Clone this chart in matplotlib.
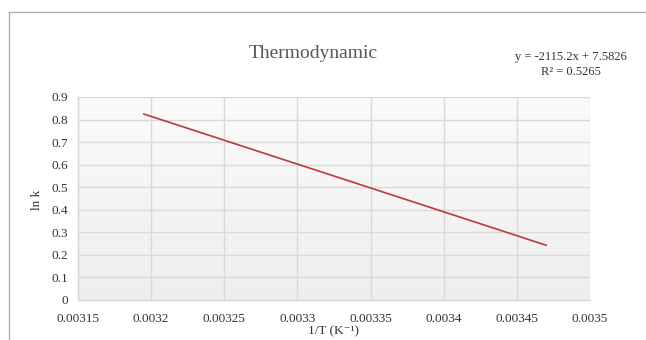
import numpy as np
import matplotlib
matplotlib.use("Agg")
import matplotlib.pyplot as plt
from matplotlib.lines import Line2D

plt.rcParams['font.family'] = ['Liberation Serif', 'DejaVu Serif']

# Linear trendline of ln k against 1/T
slope = -2115.2
intercept = 7.5826
r_squared = 0.5265
x_range = [0.003195, 0.00347]

x_ticks = [0.00315, 0.0032, 0.00325, 0.0033, 0.00335, 0.0034, 0.00345, 0.0035]
x_tick_labels = ['0.00315', '0.0032', '0.00325', '0.0033', '0.00335', '0.0034', '0.00345', '0.0035']
y_ticks = [0, 0.1, 0.2, 0.3, 0.4, 0.5, 0.6, 0.7, 0.8, 0.9]
y_tick_labels = ['0', '0.1', '0.2', '0.3', '0.4', '0.5', '0.6', '0.7', '0.8', '0.9']

W, H = 646, 340
fig = plt.figure(figsize=(W / 100, H / 100), dpi=100)
fig.patch.set_facecolor('white')

ax = fig.add_axes([78 / W, 1 - 300 / H, (590 - 78) / W, (300 - 97) / H])

# soft vertical gradient in the plot area
grad = np.linspace(0, 1, 256).reshape(-1, 1)
cmap = matplotlib.colors.LinearSegmentedColormap.from_list('bg', ['#eeeeee', '#fbfbfb'])
ax.imshow(grad, aspect='auto', cmap=cmap, origin='lower',
          extent=[x_ticks[0], x_ticks[-1], y_ticks[0], y_ticks[-1]], zorder=0)

xs = np.array(x_range)
ys = slope * xs + intercept
ax.plot(xs, ys, color='#b83b3b', linewidth=1.2, zorder=3)

ax.set_xlim(x_ticks[0], x_ticks[-1])
ax.set_ylim(y_ticks[0], y_ticks[-1])
ax.set_xticks(x_ticks)
ax.set_xticklabels(x_tick_labels)
ax.set_yticks(y_ticks)
ax.set_yticklabels(y_tick_labels)
ax.set_axisbelow(True)
ax.grid(True, color='#d9d9d9', linewidth=1.0)
for side in ['top', 'right']:
    ax.spines[side].set_visible(False)
for side in ['left', 'bottom']:
    ax.spines[side].set_color('#d9d9d9')
    ax.spines[side].set_linewidth(1.0)
ax.tick_params(axis='both', length=0, labelsize=9.5, labelcolor='#333333')
ax.tick_params(axis='y', pad=7)
ax.tick_params(axis='x', pad=9)

# axis titles
fig.text(334 / W, 1 - 331 / H, '1/T (K⁻¹)', fontsize=9.5, color='#333333',
         ha='center', va='center')
fig.text(37 / W, 1 - 200 / H, 'ln k', fontsize=9.5, color='#333333',
         ha='center', va='center', rotation=90)

fig.text(313 / W, 1 - 53 / H, 'Thermodynamic', fontsize=14, color='#555555',
         ha='center', va='center')
fig.text(571 / W, 1 - 57 / H, f'y = {slope}x + {intercept}', fontsize=9,
         color='#333333', ha='center', va='center')
fig.text(571 / W, 1 - 72 / H, f'R² = {r_squared}', fontsize=9,
         color='#333333', ha='center', va='center')

# chart frame edges
fig.add_artist(Line2D([9 / W, 9 / W], [0, 1 - 12 / H], color='#b0b0b0', linewidth=1.0))
fig.add_artist(Line2D([9 / W, 1], [1 - 12 / H, 1 - 12 / H], color='#b0b0b0', linewidth=1.0))

fig.savefig('out.png', dpi=100)
